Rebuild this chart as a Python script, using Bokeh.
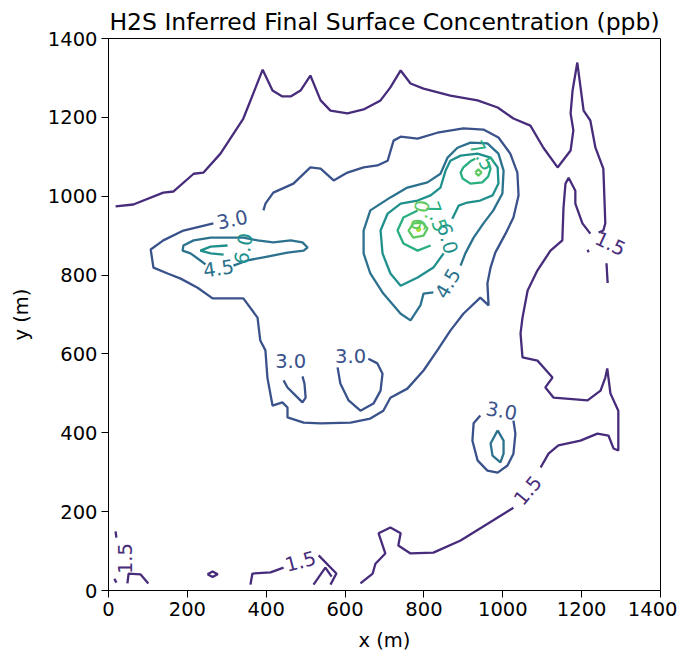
from bokeh.plotting import figure
from bokeh.models import Range1d
from bokeh.palettes import Viridis256
from bokeh.core.properties import value
from bokeh.embed import file_html
from bokeh.resources import INLINE

TITLE = "H2S Inferred Final Surface Concentration (ppb)"
X_TICKS = [0, 200, 400, 600, 800, 1000, 1200, 1400]
Y_TICKS = [0, 200, 400, 600, 800, 1000, 1200, 1400]

# ---- contour paths (x m, y m) ----
C15_TOP = [(18, 974), (63, 979), (139, 1009), (165, 1012), (216, 1057), (241, 1060), (284, 1108),
           (342, 1197), (391, 1321), (416, 1268), (441, 1253), (462, 1253), (487, 1268), (512, 1306),
           (538, 1243), (563, 1217), (606, 1210), (647, 1220), (690, 1243), (715, 1276), (741, 1319),
           (766, 1286), (799, 1273), (867, 1255), (936, 1243), (987, 1225), (1027, 1197), (1070, 1179),
           (1103, 1123), (1139, 1073), (1172, 1116), (1179, 1167), (1172, 1210), (1177, 1268),
           (1189, 1339), (1205, 1217), (1222, 1192), (1235, 1123), (1255, 1070), (1258, 989),
           (1260, 931), (1255, 913), (1243, 908)]
C15_EAST = [(1222, 905), (1202, 931), (1184, 981), (1184, 1014), (1167, 1047), (1159, 1032),
            (1154, 971), (1151, 888), (1121, 862), (1088, 812), (1063, 761), (1050, 692), (1045, 652),
            (1050, 591), (1088, 583), (1103, 566), (1126, 540), (1108, 515), (1129, 489), (1215, 482),
            (1248, 507), (1260, 540), (1265, 563), (1273, 500), (1293, 456), (1293, 355), (1281, 360),
            (1268, 393), (1240, 398), (1197, 380), (1141, 368), (1116, 347), (1096, 312)]
C15_SOUTH = [(1027, 210), (976, 178), (893, 127), (824, 96), (766, 94), (735, 114), (741, 145),
             (715, 160), (685, 145), (702, 94), (677, 68), (670, 43), (639, 18)]
C15_DASH = [(1263, 830), (1266, 780)]
C15_DOT = [(1215, 864), (1218, 858)]
C15_B1 = [(360, 15), (365, 43), (411, 46), (444, 58)]
C15_B2 = [(533, 89), (578, 43), (563, 15)]
C15_B3 = [(520, 15), (550, 58), (566, 35)]
C15_B4 = [(251, 41), (264, 48), (277, 41), (264, 34), (251, 41)]
C15_B5 = [(48, 18), (51, 43), (81, 41), (101, 18)]
C15_B6 = [(18, 150), (20, 134)]
C15_B7 = [(15, 30), (20, 20)]

C30_MAIN = [(393, 964), (398, 981), (418, 1009), (469, 1032), (512, 1073), (538, 1070), (571, 1040),
            (606, 1060), (647, 1073), (682, 1078), (708, 1090), (723, 1141), (741, 1151), (784, 1146),
            (834, 1161), (900, 1172), (951, 1169), (989, 1149), (1019, 1108), (1037, 1060),
            (1040, 1002), (1027, 946), (1007, 905), (981, 857), (969, 819), (961, 779), (964, 723),
            (943, 743), (900, 702), (867, 659), (834, 609), (799, 558), (758, 512), (715, 489),
            (697, 456), (664, 436), (614, 426), (538, 424), (495, 426), (454, 439), (454, 464),
            (441, 477), (416, 469), (403, 540), (398, 609), (385, 634), (378, 692), (342, 741),
            (264, 741), (226, 768), (183, 791), (150, 804), (114, 819), (107, 865), (139, 888),
            (190, 913), (266, 931)]
C30_U1 = [(444, 533), (454, 515), (469, 500), (492, 477), (500, 489), (497, 525), (492, 543)]
C30_U2 = [(581, 566), (588, 525), (609, 482), (639, 456), (672, 474), (690, 507), (695, 550),
          (682, 576), (659, 588)]
C30_SE = [(943, 444), (926, 424), (923, 380), (936, 330), (961, 304), (987, 299), (1012, 317),
          (1027, 347), (1032, 398), (1027, 431)]

C45_MAIN = [(824, 756), (799, 753), (791, 723), (766, 685), (741, 702), (697, 753), (664, 804),
            (647, 855), (647, 913), (664, 964), (715, 997), (758, 1022), (809, 1035), (842, 1057),
            (860, 1098), (885, 1123), (918, 1136), (961, 1134), (989, 1108), (1002, 1065),
            (999, 1007), (976, 964), (951, 931), (926, 895), (905, 855), (893, 824)]
C45_WEST = [(317, 824), (352, 837), (403, 847), (454, 857), (495, 862), (505, 870), (492, 883),
            (462, 888), (418, 883), (378, 888), (342, 895), (317, 895), (259, 895), (216, 888),
            (190, 875), (188, 862), (208, 855), (233, 837), (246, 827)]
C45_SE = [(987, 406), (969, 373), (974, 342), (994, 325), (1002, 347), (1002, 380), (987, 406)]

C60_MAIN = [(850, 855), (824, 819), (784, 794), (741, 773), (715, 804), (695, 855), (690, 913),
            (708, 956), (741, 981), (784, 989), (817, 1002), (842, 1022), (855, 1065), (867, 1090),
            (893, 1103), (936, 1108), (969, 1098), (987, 1073), (989, 1032), (974, 1002),
            (943, 989), (910, 984), (888, 976), (872, 943)]
C60_WEST = [(302, 875), (259, 872), (233, 862), (259, 855), (292, 852)]

C75_NE = [(963, 1088), (969, 1070), (963, 1050), (948, 1035), (918, 1032), (898, 1045),
          (893, 1060), (900, 1073), (920, 1090), (930, 1095)]
C75_SW = [(784, 964), (748, 946), (733, 913), (748, 880), (784, 862), (817, 875)]

C90_NE = [(930, 1060), (938, 1068), (946, 1060), (938, 1052), (930, 1060)]
C90_SW = [(773, 931), (761, 913), (773, 895), (799, 900), (809, 918), (796, 933), (773, 931)]

C105_SW = [(781, 916), (786, 921), (791, 916), (786, 911), (781, 916)]

CONTOURS = [
    (1.5, [C15_TOP, C15_EAST, C15_SOUTH, C15_DASH, C15_DOT, C15_B1, C15_B2, C15_B3, C15_B4,
           C15_B5, C15_B6, C15_B7]),
    (3.0, [C30_MAIN, C30_U1, C30_U2, C30_SE]),
    (4.5, [C45_MAIN, C45_WEST, C45_SE]),
    (6.0, [C60_MAIN, C60_WEST]),
    (7.5, [C75_NE, C75_SW]),
    (9.0, [C90_NE, C90_SW]),
    (10.5, [C105_SW]),
]

# ---- inline contour labels ----
LABEL_LEVEL = [1.5, 1.5, 1.5, 1.5, 3.0, 3.0, 3.0, 3.0, 4.5, 4.5, 6.0, 6.0, 7.5, 7.5, 9.0]
LABEL_X = [1273, 1063, 487, 43, 314, 462, 614, 997, 279, 860, 342, 860, 948, 832, 791]
LABEL_Y = [880, 254, 74, 81, 941, 583, 596, 456, 817, 779, 867, 893, 1103, 948, 951]
LABEL_ANGLE = [-25, 50, 15, 90, 12, 0, 0, -10, 8, 60, 80, -75, -60, -70, 80]

FONT = "DejaVu Sans"
TICK_FS = "19.5px"
TITLE_FS = "23.5px"


def level_color(level, vmin=0.0, vmax=12.0):
    idx = int((level - vmin) / (vmax - vmin) * 256)
    return Viridis256[max(0, min(255, idx))]


p = figure(width=677, height=657, x_range=Range1d(0, 1400), y_range=Range1d(0, 1400),
           output_backend="svg", toolbar_location=None, title=TITLE,
           min_border_left=108, min_border_right=17, min_border_top=38, min_border_bottom=67)

for level, paths in CONTOURS:
    xs = [[pt[0] for pt in path] for path in paths]
    ys = [[pt[1] for pt in path] for path in paths]
    p.multi_line(xs, ys, line_color=level_color(level), line_width=2.3)

p.text(x=LABEL_X, y=LABEL_Y, text=[f"{v:.1f}" for v in LABEL_LEVEL], angle=LABEL_ANGLE,
       angle_units="deg", text_align="center", text_baseline="middle",
       text_font_size=TICK_FS, text_font=value(FONT),
       text_color=[level_color(v) for v in LABEL_LEVEL])

p.title.text_font = FONT
p.title.text_font_size = TITLE_FS
p.title.text_font_style = "normal"
p.title.align = "center"
p.title.text_color = "black"
p.title.offset = 0
p.title.standoff = 6

for ax, ticks, lab in ((p.xaxis[0], X_TICKS, "x (m)"), (p.yaxis[0], Y_TICKS, "y (m)")):
    ax.ticker = ticks
    ax.axis_label = lab
    ax.axis_label_text_font = FONT
    ax.axis_label_text_font_size = TICK_FS
    ax.axis_label_text_font_style = "normal"
    ax.axis_label_text_color = "black"
    ax.major_label_text_font = FONT
    ax.major_label_text_font_size = TICK_FS
    ax.major_label_text_color = "black"
    ax.major_tick_out = 7
    ax.major_tick_in = 0
    ax.major_label_standoff = 4
    ax.minor_tick_line_color = None
    ax.axis_line_color = "black"
    ax.major_tick_line_color = "black"

p.xaxis[0].axis_label_standoff = 10
p.yaxis[0].axis_label_standoff = 12

p.grid.visible = False
p.outline_line_color = "black"
p.outline_line_alpha = 1.0
p.outline_line_width = 1
p.background_fill_color = "white"
p.border_fill_color = "white"

open("out.html", "w").write(file_html(p, INLINE))
